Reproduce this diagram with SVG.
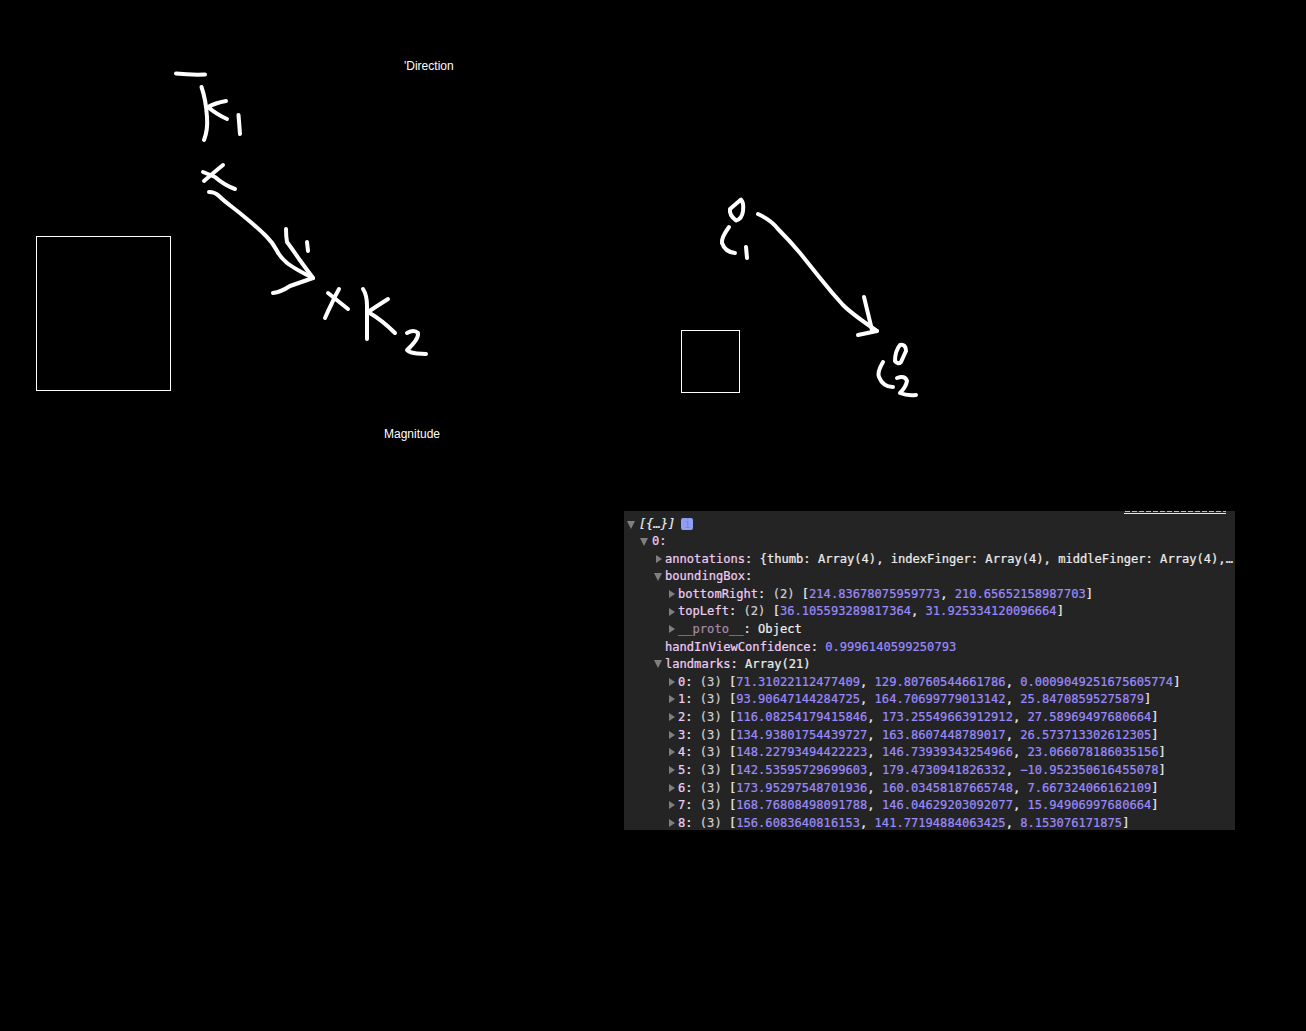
<svg xmlns="http://www.w3.org/2000/svg" width="1306" height="1031" viewBox="0 0 1306 1031">
<defs>
<style>
.ink{fill:none;stroke:#fff;stroke-width:4;stroke-linecap:round;stroke-linejoin:round}
.box{fill:none;stroke:#fff;stroke-width:1}
.lbl{font-family:"Liberation Sans",Arial,sans-serif;font-size:12px;fill:#fff}
.con{font-family:"DejaVu Sans Mono","Liberation Mono",monospace;font-size:12.1px;fill:#ececec;stroke:#ececec;stroke-width:.22;white-space:pre}
.k{fill:#eecdf5;stroke:#eecdf5}
.n{fill:#9b8afc;stroke:#9b8afc}
.d{fill:#a58aa8;stroke:#a58aa8}
.c{fill:#cfcfcf;stroke:#cfcfcf}
.tri{fill:#7f7f7f}
</style>
<clipPath id="panelClip"><rect x="624" y="511" width="611" height="319"/></clipPath>
</defs>
<rect width="1306" height="1031" fill="#000"/>
<g id="hand-box-left"><rect class="box" x="36.500" y="236.500" width="134" height="154"/></g>
<g id="hand-box-right"><rect class="box" x="681.500" y="330.500" width="58" height="62"/></g>
<g id="label-direction"><text class="lbl" x="404" y="70">'Direction</text></g>
<g id="label-magnitude"><text class="lbl" x="384" y="438">Magnitude</text></g>
<g id="sketch-k1">
<path class="ink" d="M176 73.500Q190 75 205 74.500"/>
<path class="ink" d="M201.500 87Q206 100 207 117Q208 130 204 140"/>
<path class="ink" d="M226 101Q215 103 208 107Q216 114 227 119"/>
<path class="ink" d="M238.500 115L240 134"/>
<path class="ink" d="M223 165Q212 174 204 181M203 172L215 177Q224 185 235 189"/>
</g>
<g id="sketch-k2">
<path class="ink" d="M339 289Q335 296 332 303Q328 311 325 318M328 293L348 309"/>
<path class="ink" d="M363 289Q367 295 367 306L367 339"/>
<path class="ink" d="M388 299Q377 306 368 312Q382 320 395 333"/>
<path class="ink" d="M407 333Q414 329 418 333Q419 339 407 350Q410 353 417 353.500L426 354"/>
</g>
<g id="sketch-c1">
<path class="ink" d="M741 199.500L730 209Q729 215 736 220.500Q742 219 743 211Q744 203 741 199.500Z"/>
<path class="ink" d="M729 227Q721 238 722 243Q725 252 735 253"/>
<path class="ink" d="M746 247L747 258"/>
</g>
<g id="sketch-c2">
<path class="ink" d="M900 345Q895 351 895 361Q898 365 901 362L906 351Q906 344 900 345Z"/>
<path class="ink" d="M883 362Q877 372 879 377Q883 387 893 387"/>
<path class="ink" d="M897 378Q905 375 907 381Q906 387 900 393Q907 396 916 395"/>
</g>
<g id="connectors">
<path class="ink" d="M209 192Q215 192 219 196Q223 200 231.500 206.500Q240 213 250 221.500Q260 230 266.500 236.500Q273 243 276.500 250Q280 257 286.500 262.500Q293 268 313 278"/>
<path class="ink" d="M286 229Q286 236 287 242Q293 250 299 259L313 278M273 293Q281 292 290 286L313 278"/>
<path class="ink" d="M307 242L308 251"/>
<path class="ink" d="M758 214Q771 220 778 229Q790 241 800 253L820 278Q832 293 843 305Q852 314 877 331"/>
<path class="ink" d="M864 297L872 330M858 335L877 331"/>
</g>
<g id="console-panel">
<rect x="624" y="511" width="611" height="319" fill="#242424"/>
<g clip-path="url(#panelClip)">
<path d="M1124 513.500H1226" stroke="#e8e8e8" stroke-width="1"/>
<path d="M1125 511.500H1226" stroke="#bdbdbd" stroke-width="1" stroke-dasharray="5 2"/>
<g class="tri">
<path d="M627 521h8l-4 8z"/><path d="M640 538h8l-4 8z"/>
<path d="M656 555v8l6-4z"/><path d="M654 573h8l-4 8z"/>
<path d="M669 590v8l6-4z"/><path d="M669 608v8l6-4z"/><path d="M669 625v8l6-4z"/>
<path d="M654 660h8l-4 8z"/>
<path d="M669 678v8l6-4z"/><path d="M669 695v8l6-4z"/><path d="M669 713v8l6-4z"/><path d="M669 731v8l6-4z"/><path d="M669 748v8l6-4z"/><path d="M669 766v8l6-4z"/><path d="M669 784v8l6-4z"/><path d="M669 801v8l6-4z"/><path d="M669 819v8l6-4z"/>
</g>
<text class="con" x="639" y="528" font-style="italic">[{…}]</text>
<rect x="681" y="518" width="12" height="12" rx="2" fill="#8f9ff5"/>
<text class="con" x="684" y="528" style="fill:#7d88c8;stroke:none">i</text>
<text class="con k" x="652" y="545">0:</text>
<text class="con" x="665" y="563"><tspan class="k">annotations</tspan>: {thumb: Array(4), indexFinger: Array(4), middleFinger: Array(4),…</text>
<text class="con" x="665" y="580"><tspan class="k">boundingBox</tspan>:</text>
<text class="con" x="678" y="598"><tspan class="k">bottomRight</tspan>: <tspan class="c">(2)</tspan> [<tspan class="n">214.83678075959773</tspan>, <tspan class="n">210.65652158987703</tspan>]</text>
<text class="con" x="678" y="615"><tspan class="k">topLeft</tspan>: <tspan class="c">(2)</tspan> [<tspan class="n">36.105593289817364</tspan>, <tspan class="n">31.925334120096664</tspan>]</text>
<text class="con" x="678" y="633"><tspan class="d">__proto__</tspan>: Object</text>
<text class="con" x="665" y="651"><tspan class="k">handInViewConfidence</tspan>: <tspan class="n">0.9996140599250793</tspan></text>
<text class="con" x="665" y="668"><tspan class="k">landmarks</tspan>: Array(21)</text>
<text class="con" x="678" y="686"><tspan class="k">0</tspan>: <tspan class="c">(3)</tspan> [<tspan class="n">71.31022112477409</tspan>, <tspan class="n">129.80760544661786</tspan>, <tspan class="n">0.0009049251675605774</tspan>]</text>
<text class="con" x="678" y="703"><tspan class="k">1</tspan>: <tspan class="c">(3)</tspan> [<tspan class="n">93.90647144284725</tspan>, <tspan class="n">164.70699779013142</tspan>, <tspan class="n">25.84708595275879</tspan>]</text>
<text class="con" x="678" y="721"><tspan class="k">2</tspan>: <tspan class="c">(3)</tspan> [<tspan class="n">116.08254179415846</tspan>, <tspan class="n">173.25549663912912</tspan>, <tspan class="n">27.58969497680664</tspan>]</text>
<text class="con" x="678" y="739"><tspan class="k">3</tspan>: <tspan class="c">(3)</tspan> [<tspan class="n">134.93801754439727</tspan>, <tspan class="n">163.8607448789017</tspan>, <tspan class="n">26.573713302612305</tspan>]</text>
<text class="con" x="678" y="756"><tspan class="k">4</tspan>: <tspan class="c">(3)</tspan> [<tspan class="n">148.22793494422223</tspan>, <tspan class="n">146.73939343254966</tspan>, <tspan class="n">23.066078186035156</tspan>]</text>
<text class="con" x="678" y="774"><tspan class="k">5</tspan>: <tspan class="c">(3)</tspan> [<tspan class="n">142.53595729699603</tspan>, <tspan class="n">179.4730941826332</tspan>, <tspan class="n">−10.952350616455078</tspan>]</text>
<text class="con" x="678" y="792"><tspan class="k">6</tspan>: <tspan class="c">(3)</tspan> [<tspan class="n">173.95297548701936</tspan>, <tspan class="n">160.03458187665748</tspan>, <tspan class="n">7.667324066162109</tspan>]</text>
<text class="con" x="678" y="809"><tspan class="k">7</tspan>: <tspan class="c">(3)</tspan> [<tspan class="n">168.76808498091788</tspan>, <tspan class="n">146.04629203092077</tspan>, <tspan class="n">15.94906997680664</tspan>]</text>
<text class="con" x="678" y="827"><tspan class="k">8</tspan>: <tspan class="c">(3)</tspan> [<tspan class="n">156.6083640816153</tspan>, <tspan class="n">141.77194884063425</tspan>, <tspan class="n">8.153076171875</tspan>]</text>
</g>
</g>
</svg>
